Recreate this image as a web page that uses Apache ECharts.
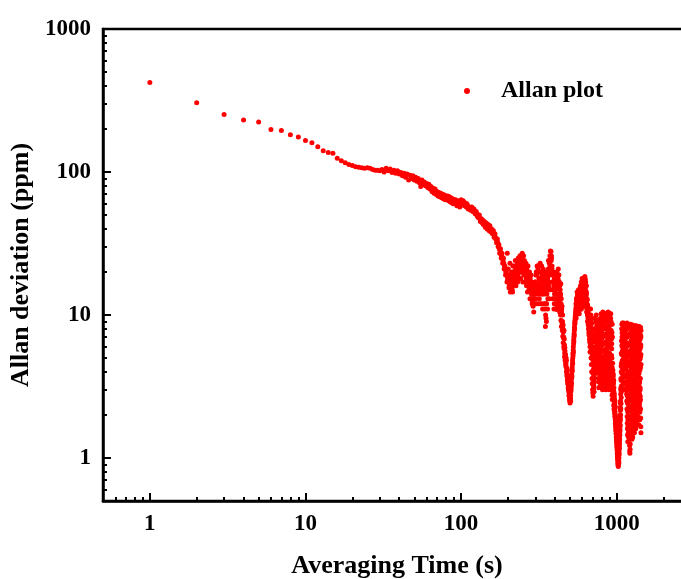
<!DOCTYPE html>
<html>
<head>
<meta charset="utf-8">
<script src="https://cdn.jsdelivr.net/npm/echarts@6/dist/echarts.min.js"></script>
<style>html,body{margin:0;padding:0;background:#fff;}#chart{width:681px;height:579px;}</style>
</head>
<body>
<div id="chart"></div>
<script>
// Averaging time (s) segments: tau = start + i*step
const seg1Start = 1, seg1Step = 1;
const seg1Values = [423,305,252,231,224,198,195,182,176,166,
  160,150,141,137,135,125,120,116,113,111,
  109,108,107,106,107,106,104,103,103,102,
  104,100,106,102,105,99,103,98,102,97,
  99,94,98,92,97,88,95,90,94,88,
  92,86,90,84,79,88,82,85,80,83,
  78,82,76,79,73,77,71,76,70,73,
  68,72,67,71,66,70,65,69,64,68,
  65,68,63,67,62,66,61,65,60,64,
  60,64,61,58,63,59,62,57,60];
const seg2Start = 100, seg2Step = 2;
const seg2Values = [64,62,60,61,57,58,57,56,55,56,
  54,53,52,51,50,48,47,46,45,46,
  44,44,43,42,42,41,41,40,40,39,
  38,37,36,35,34,33,32,31,29,28,
  27,26,25,24,23,22,21,20,19,27,
  18,17,16,23,16,15,18,14.5,20,17,
  22,19,21,18,20,23,19,21,24,23,
  20,22,25,21,26,23,26,21,19,22,
  20,18,21,17,19,16,18,17,15,18,
  16,13,15,12,14,11.5,15,13,16,14];
const seg2bStart = 101, seg2bStep = 2;
const seg2bValues = [60,63,58,59,60,55,57,54,57,53,
  55,51,53,49,48,50,45,47,44,43,
  45,41,44,40,43,39,42,38,40,37,
  39,35,37,34,32,34,30,31,27,29,
  25,27,23,25,21,22,19,20,17,18,
  21,15.5,19,14.5,17,20,15,22,16,19,
  17,24,16,20,22,17,25,18,21,26,
  18,24,20,27,17,22,19,24,17,21,
  23,16,20,14.5,22,18,15,20,13,17,
  19,14,17,12.5,16,13,10.5,14,12,17];
const tailStep = 3;
const tailAStart = 300;
const tailAValues = [17,15,19,14,21,16,13,18,20,15,12,17,14,19,16,
  11,8.3,9.5,12,15,18,21,17,23,26,28,
  27.8,25,22,19.5,17,20,16.7,14,18,
  15,12,10.9,13,15.5,17.7,16,14,12.5,11,
  10,9.2,8.3,9,7.8,7.1,6.4,7,5.8,5.1,5.6,
  4.9,4.6,4.3,4.0,3.7,3.5,3.35,3.1,2.9,2.7,2.55,2.42,
  2.6,2.9,3.2,3.6,4.0,4.5,5.0,5.7,6.3,7.0,7.8,8.6,9.3,9.8,
  10.5,11.5,12.5,11,13.5,12,14.3,13,11.5,13.8,15,12.8,14,
  16,13,11,12.5,14.5,17,15,13,16.5,18,15.5,13.5,17.5,18.6,16.5,
  15,13.5,12.8,14,12,11,10,11.5,9.5,8.8,10,8.5,7.8,7.5,8.3,7,
  6.3,5.6,5,4.5,4,3.6,3.3,3.0,2.85,2.7,3.0,
  3.3,3.7,3.4,4.0,4.4,3.9,4.8,4.3,5.2,4.6,5.6,6.1,
  6.8,7.5,6.6,8.2,8.8,7.6,8.4,9.3,8.1,7.2,8.7,9.3,8.5,
  7.5,6.6,5.8,5.1,4.5,4.0,3.5,3.1,3.0,3.3,3.8,4.3,4.9,5.6,6.4,7.3,8.3,9.4,10,9.0,
  8.0,7.1,6.3,5.6,5.0,4.4,3.9,3.5,3.2,3.6,4.1,4.7,5.4,6.2,7.1,8.1,9.2,10.3,9.6,8.6,7.6,
  6.7,5.9,5.2,4.6,4.1,3.7,3.35,3.0,2.75,2.56,2.8,3.1,3.4,3.1,2.8,2.55,2.35,2.2,2.3,2.15,2.05,1.95,2.1,
  1.85,1.75,1.65,1.56,1.48,1.40,1.34,1.27,1.2,1.14,1.08,1.02,0.97,0.92,0.89,0.87,0.9,
  0.95,1.0,1.07,1.15,1.24,1.34,1.45,1.57,1.7,1.85,2.0,2.2,2.4,2.65,2.9,3.2,3.5,3.9,4.3,4.8,5.3,5.9,6.5,7.2,7.9,8.5,8.8,
  8.2,7.4,6.6,5.9,5.3,4.7,4.2,3.8,3.35,3.0,3.3,3.7,4.2,4.8,5.5,6.3,7.2,8.2,8.8,8.0,
  7.0,6.1,5.3,4.6,4.0,3.5,3.0,2.6,2.25,1.95,1.7,1.5,1.35,1.22,1.12,1.08,1.15,1.25,
  1.4,1.6,1.85,2.15,2.5,2.9,3.35,3.9,4.5,5.2,6.0,6.9,7.9,8.5,7.6,6.6,5.7,4.9,4.2,3.6,
  3.1,2.6,2.2,1.9,1.65,1.5,1.6,1.85,2.15,2.5,2.9,3.4,4.0,4.7,5.5,6.4,7.4,
  8.4,7.5,6.5,5.6,4.8,4.1,3.5,3.0,2.6,2.25,1.95,2.2,2.6,3.1,3.7,4.4,
  5.2,6.2,7.3,8.3,7.6,6.6,5.7,4.9,4.2,3.6,3.1,2.7,2.56,2.2,1.9,1.65,1.5];
const tailBStart = 301;
const tailBValues = [13,20,16,22,12,18,15,23,14,17,19,11,21,15,18,
  14,10,12,16,20,13,24,19,15,22,25,
  24,19,15,17,13,16,12,18,14,
  19,14,16,12,18,21,13,17,10.5,15,
  14,12,10.5,11.5,9,8,7.6,6,6.8,5.4,4.8,
  5.3,4.4,4.8,3.8,4.1,3.3,3.6,3.0,3.2,2.8,2.6,2.5,
  2.75,3.1,3.4,3.8,4.3,4.8,5.4,6.0,6.7,7.4,8.2,9.0,9.6,10.5,
  12,10,13,14.5,10.5,12.8,11,15,12.5,10.2,13,14.8,11.8,
  12,15,17,14,11.5,13.5,16.5,18,12,14.5,17,16,12.5,15,17.8,
  17,16,14.5,12,13,10.5,11.8,9,10.5,8,9,7.2,8.5,6.5,6,5.5,
  11,10,9,8,7,6,5.2,4.5,3.9,3.4,3.1,
  3.2,2.9,3.6,4.2,5.0,5.8,6.8,7.8,9,10,9.2,8.4,
  7.6,6.6,5.7,4.9,4.2,3.6,3.1,3.4,3.9,4.5,5.2,6.0,6.9,
  8,9,10.2,9.6,8.6,7.7,6.9,6.2,5.5,5,4.6,4.2,3.8,3.4,3.1,3.3,3.7,4.1,4.6,5.2,
  5.8,6.5,7.3,8.2,9.2,10.3,9.4,8.4,7.5,6.7,6.0,5.3,4.7,4.2,3.7,3.3,3.0,3.4,3.9,4.4,5.0,
  8.5,9.5,10.2,9,7.8,6.8,5.8,5,4.3,3.7,3.3,3.6,3.9,3.4,3.0,2.7,2.9,2.5,2.6,2.35,2.45,2.2,2.25,
  2.0,1.9,1.78,1.7,1.6,1.52,1.44,1.36,1.3,1.22,1.16,1.1,1.04,0.99,0.95,0.92,0.96,
  1.0,1.1,1.2,1.32,1.46,1.62,1.8,2.0,2.25,2.5,2.8,3.1,3.5,4.0,4.6,5.3,6.1,7.0,8.0,8.8,7.9,7.0,6.2,5.5,4.9,4.3,3.8,
  3.4,3.0,3.3,3.7,4.2,4.7,5.3,6.0,6.8,7.7,8.6,8.0,7.2,6.4,5.7,5.0,4.4,3.9,3.4,3.0,
  2.7,2.4,2.1,1.85,1.65,1.5,1.4,1.5,1.7,1.95,2.3,2.7,3.2,3.8,4.5,5.3,6.2,7.2,
  8.2,8.6,7.6,6.6,5.7,4.9,4.2,3.6,3.1,2.7,2.3,2.0,1.75,1.55,1.4,1.5,1.7,1.95,2.25,2.6,
  3.0,3.5,4.1,4.8,5.6,6.5,7.5,8.4,7.7,6.8,5.9,5.1,4.4,3.8,3.2,2.7,2.3,
  2.0,1.75,1.7,1.9,2.2,2.6,3.1,3.7,4.4,5.2,6.1,7.1,8.1,8.3,7.3,6.3,
  5.4,4.6,3.9,3.3,2.8,2.4,2.1,1.85,2.1,2.5,3.0,3.6,4.3,5.1,6.0,7.0,7.8];
const tailCStart = 302;
const tailCValues = [19,12,22,16,14,20,17,12,16,22,14,19,16,12,20,
  17,12,9,14,11,19,16,13,20,15,24,
  26,21,17,13,15,11,18,14,12,
  13,17,20,11.5,14,16,19,12,16,13.5,
  16.5,13,11,8.8,10,8.5,6.9,7.8,6.2,5.9,5.0,
  4.5,5.0,4.0,4.2,3.5,3.8,3.1,3.4,2.75,3.0,2.5,2.65,
  2.5,3.0,3.3,3.7,4.1,4.6,5.2,5.5,6.5,7.2,8.0,8.8,10,11,
  9.5,13,11,12,14,11.2,13.2,10.5,14,12,11,13.5,15.5,
  14,11,13.5,16,18,12,14,15.5,17.5,13,11.5,18.2,15,13,14.5,
  12,14.5,16,10.5,11,12.8,9,10,8.5,9.5,7.5,9.2,6.8,7.8,5.5,6.2,
  8.5,9.5,7.5,8.7,6.5,7.2,5.8,6.6,4.8,5.5,4.2,
  6,7,8,9.5,8,6.5,7.5,5.5,6.5,7.8,8.8,7,
  4.6,5.2,4.0,5.8,4.5,6.3,5.0,3.4,4.2,5.6,3.8,4.8,3.2,
  3.6,4.2,4.8,5.5,6.2,7.0,7.9,8.8,9.8,10.5,9.3,8.2,7.2,6.3,5.6,5.0,4.5,4.0,3.6,3.2,
  3.4,3.0,3.3,3.8,4.3,4.9,5.6,6.4,7.3,8.3,9.4,10.5,9.8,8.8,7.8,6.9,6.1,5.4,4.8,4.2,3.6,
  4,3.5,3.2,3.6,4.3,5.2,6.3,7.5,8.6,7,4.6,4.1,3.7,3.8,3.3,3.5,3.1,2.7,2.8,2.55,2.4,2.5,2.3,
  1.95,1.82,1.72,1.62,1.55,1.47,1.38,1.31,1.24,1.18,1.12,1.06,1.0,0.96,0.93,0.9,0.94,
  0.92,1.05,1.18,1.28,1.4,1.52,1.66,1.9,2.15,2.4,3.0,3.6,4.4,5.4,6.6,8.0,8.6,7.5,6.5,5.6,4.8,4.1,3.5,3.0,3.3,3.8,4.4,
  5.0,5.6,6.3,7.1,8.0,8.7,7.8,6.9,6.1,5.4,4.8,4.3,3.8,3.4,3.1,2.8,2.5,2.2,1.95,1.75,
  1.6,1.45,1.3,1.45,1.65,1.9,2.2,2.6,3.1,3.7,4.4,5.2,6.2,7.3,8.3,7.4,6.4,5.5,
  4.7,4.0,3.4,2.9,2.5,2.15,1.85,1.6,1.45,1.35,1.5,1.7,2.0,2.35,2.8,3.3,3.9,4.6,5.4,6.3,
  7.3,8.3,8.0,7.0,6.1,5.2,4.5,3.9,3.3,2.8,2.4,2.05,1.8,1.6,1.75,2.0,2.4,
  2.9,3.4,4.0,4.7,5.5,6.4,7.4,8.3,7.8,6.8,5.9,5.0,4.3,3.6,3.0,2.5,
  2.1,1.85,1.7,1.9,2.3,2.8,3.4,4.1,4.9,5.8,6.8,7.9,8.2,7.2,6.2,5.3,4.5];

const xMajorTicks = [1, 10, 100, 1000];
const xMinorTicks = [0.6,0.7,0.8,0.9,2,3,4,5,6,7,8,9,20,30,40,50,60,70,80,90,200,300,400,500,600,700,800,900,2000];
const yMajorTicks = [1, 10, 100, 1000];
const yMinorTicks = [0.6,0.7,0.8,0.9,2,3,4,5,6,7,8,9,20,30,40,50,60,70,80,90,200,300,400,500,600,700,800,900];

const seriesName = 'Allan plot';
const xTitle = 'Averaging Time (s)';
const yTitle = 'Allan deviation (ppm)';

function buildPoints(start, step, values) {
  return values.map((v, i) => [start + i * step, v]);
}
const points = [].concat(
  buildPoints(seg1Start, seg1Step, seg1Values),
  buildPoints(seg2Start, seg2Step, seg2Values),
  buildPoints(seg2bStart, seg2bStep, seg2bValues),
  buildPoints(tailAStart, tailStep, tailAValues),
  buildPoints(tailBStart, tailStep, tailBValues),
  buildPoints(tailCStart, tailStep, tailCValues)
).sort((a, b) => a[0] - b[0]);

const FONT = "'Liberation Serif', 'Times New Roman', serif";
const textBase = {fontFamily: FONT, fontWeight: 'bold', color: '#000'};
const lineStyle = {color: '#000', width: 2.5};

const chart = echarts.init(document.getElementById('chart'), null, {renderer: 'canvas'});
chart.setOption({
  animation: false,
  backgroundColor: '#fff',
  grid: {left: 103, top: 29, right: -10, bottom: 78, show: true, borderColor: '#000', borderWidth: 2.5, outerBoundsMode: 'none'},
  legend: {
    left: 459, top: 74,
    itemWidth: 6, itemHeight: 6,
    icon: 'circle',
    data: [seriesName],
    textStyle: Object.assign({fontSize: 24, padding: [0, 0, 0, 26]}, textBase)
  },
  xAxis: [{
    type: 'log', logBase: 10, min: 0.5, max: 3000, position: 'bottom',
    name: xTitle, nameLocation: 'middle', nameGap: 52,
    nameTextStyle: Object.assign({fontSize: 26}, textBase),
    axisLine: {show: true, lineStyle: lineStyle},
    axisTick: {show: true, inside: true, length: 8, customValues: xMajorTicks, lineStyle: {color: '#000', width: 2}},
    axisLabel: Object.assign({fontSize: 23, margin: 12, customValues: xMajorTicks, formatter: v => String(v)}, textBase),
    splitLine: {show: false}, minorTick: {show: false}
  }, {
    type: 'log', logBase: 10, min: 0.5, max: 3000, position: 'bottom', offset: 0,
    axisLine: {show: false},
    axisTick: {show: true, inside: true, length: 4, customValues: xMinorTicks, lineStyle: {color: '#000', width: 2}},
    axisLabel: {show: false}, splitLine: {show: false}
  }],
  yAxis: [{
    type: 'log', logBase: 10, min: 0.5, max: 1000, position: 'left',
    name: yTitle, nameLocation: 'middle', nameGap: 63,
    nameTextStyle: Object.assign({fontSize: 26}, textBase),
    axisLine: {show: true, lineStyle: lineStyle},
    axisTick: {show: true, inside: true, length: 8, customValues: yMajorTicks, lineStyle: {color: '#000', width: 2}},
    axisLabel: Object.assign({fontSize: 23, margin: 12, customValues: yMajorTicks, formatter: v => String(v)}, textBase),
    splitLine: {show: false}
  }, {
    type: 'log', logBase: 10, min: 0.5, max: 1000, position: 'left', offset: 0,
    axisLine: {show: false},
    axisTick: {show: true, inside: true, length: 4, customValues: yMinorTicks, lineStyle: {color: '#000', width: 2}},
    axisLabel: {show: false}, splitLine: {show: false}
  }],
  series: [{
    name: seriesName,
    type: 'scatter',
    xAxisIndex: 0, yAxisIndex: 0,
    symbol: 'circle', symbolSize: 5,
    itemStyle: {color: '#ff0000', opacity: 1},
    data: points
  }]
});
</script>
</body>
</html>
